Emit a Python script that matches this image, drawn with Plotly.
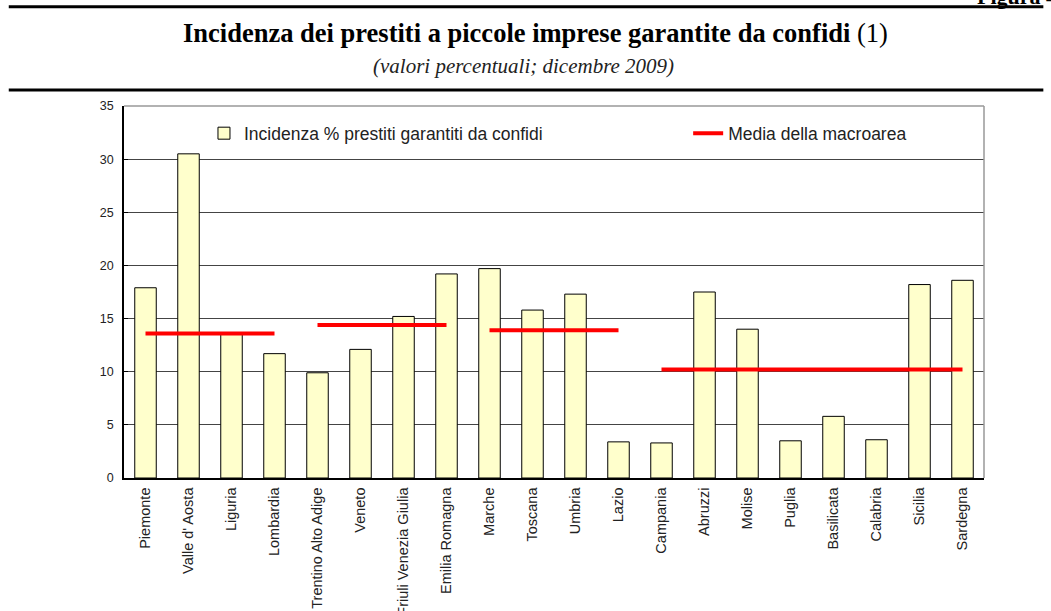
import plotly.graph_objects as go

regioni = ["Piemonte", "Valle d' Aosta", "Liguria", "Lombardia", "Trentino Alto Adige",
           "Veneto", "Friuli Venezia Giulia", "Emilia Romagna", "Marche", "Toscana",
           "Umbria", "Lazio", "Campania", "Abruzzi", "Molise", "Puglia", "Basilicata",
           "Calabria", "Sicilia", "Sardegna"]
incidenza = [17.9, 30.5, 13.6, 11.7, 9.9, 12.1, 15.2, 19.2, 19.7, 15.8,
             17.3, 3.4, 3.3, 17.5, 14.0, 3.5, 5.8, 3.6, 18.2, 18.6]

# macroaree: prima e ultima regione, e la media
nord_ovest = ["Piemonte", "Lombardia"]
nord_est = ["Trentino Alto Adige", "Emilia Romagna"]
centro = ["Marche", "Lazio"]
sud = ["Campania", "Sardegna"]
medie = [13.6, 14.4, 13.9, 10.2]

titolo = "<b>Incidenza dei prestiti a piccole imprese garantite da confidi</b> (1)"
sottotitolo = "<i>(valori percentuali; dicembre 2009)</i>"

fig = go.Figure()
fig.add_trace(go.Bar(x=regioni, y=incidenza, name="Incidenza % prestiti garantiti da confidi",
                     marker=dict(color="#FFFFCC", line=dict(color="black", width=1)),
                     legend="legend", showlegend=True))

for i, (area, m) in enumerate(zip([nord_ovest, nord_est, centro, sud], medie)):
    fig.add_trace(go.Scatter(x=area, y=[m, m], mode="lines", name="Media della macroarea",
                             line=dict(color="#FF0000", width=4), legendgroup="media",
                             showlegend=(i == 0), legend="legend2"))

fig.add_annotation(text=titolo, xref="paper", yref="paper", x=0.479, y=1.196,
                   yanchor="middle", showarrow=False,
                   font=dict(family="Liberation Serif", size=26.5, color="black"))
fig.add_annotation(text=sottotitolo, xref="paper", yref="paper", x=0.465, y=1.107,
                   yanchor="middle", showarrow=False,
                   font=dict(family="Liberation Serif", size=21, color="#222"))
fig.add_annotation(text="<b>Figura 4.</b>", xref="paper", yref="paper", x=1.094, y=1.255,
                   xanchor="right", yanchor="bottom", showarrow=False,
                   font=dict(family="Liberation Serif", size=22, color="black"))

# righe orizzontali dell'intestazione
fig.add_shape(type="line", xref="paper", yref="paper", x0=-0.134, x1=1.069, y0=1.267, y1=1.267,
              line=dict(color="black", width=3))
fig.add_shape(type="line", xref="paper", yref="paper", x0=-0.134, x1=1.069, y0=1.043, y1=1.043,
              line=dict(color="black", width=3))

fig.update_layout(
    width=1051, height=611,
    margin=dict(l=124, r=67, t=106, b=133),
    paper_bgcolor="white", plot_bgcolor="white",
    bargap=0.5, showlegend=True,
    font=dict(family="Liberation Sans", size=14, color="#222"),
    legend=dict(x=0.093, y=0.975, xanchor="left", yanchor="top",
                bgcolor="rgba(0,0,0,0)", font=dict(size=17.5)),
    legend2=dict(x=0.656, y=0.975, xanchor="left", yanchor="top",
                 bgcolor="rgba(0,0,0,0)", font=dict(size=17.5)),
    xaxis=dict(tickangle=-90, showline=True, linecolor="black", linewidth=1.5,
               ticks="", tickfont=dict(size=14.5), ticklabelstandoff=2, automargin=False),
    yaxis=dict(range=[0, 35], dtick=5, showgrid=True, gridcolor="#444", gridwidth=1,
               showline=True, linecolor="black", linewidth=1.5, ticks="inside",
               ticklen=4, tickcolor="black", tickfont=dict(size=12.5), ticklabelstandoff=6,
               zeroline=False, automargin=False),
)
# bordo grigio superiore e destro dell'area del grafico
fig.add_shape(type="line", xref="paper", yref="paper", x0=0, x1=1, y0=1, y1=1,
              line=dict(color="#999", width=1.5))
fig.add_shape(type="line", xref="paper", yref="paper", x0=1, x1=1, y0=0, y1=1,
              line=dict(color="#999", width=1.5))

fig.write_html("out.html", config={"displayModeBar": False},
               post_script="document.body.style.margin='0';")
